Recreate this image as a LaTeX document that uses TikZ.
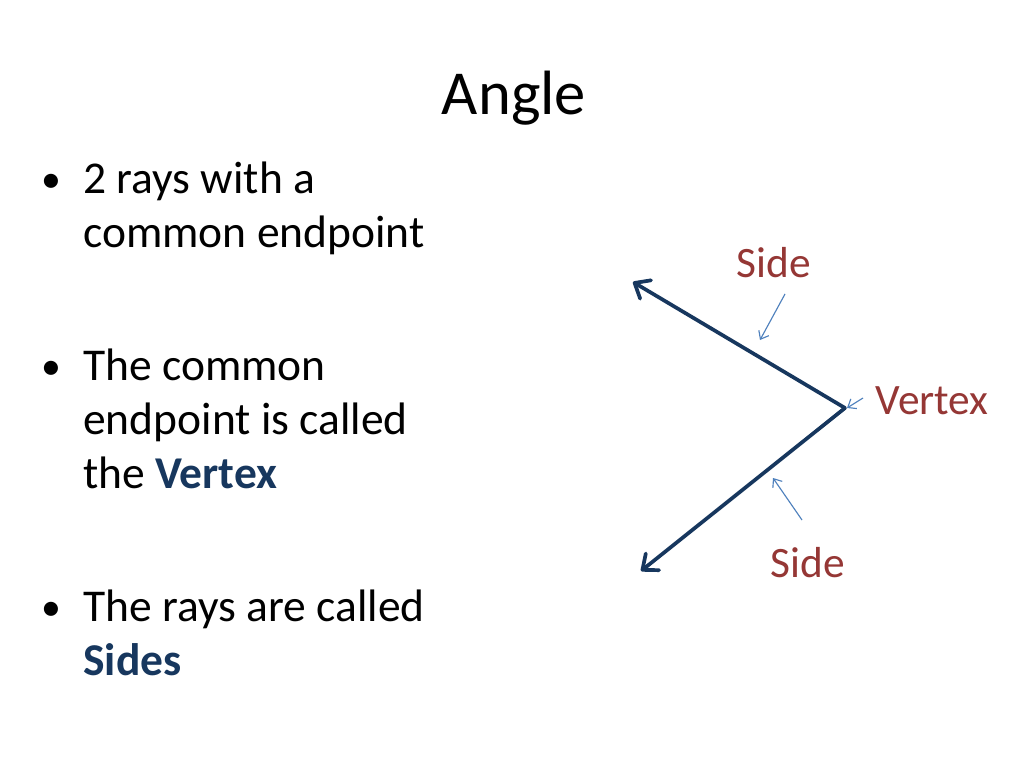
\documentclass[tikz,border=0pt]{standalone}
\usepackage{fontspec}
\setmainfont{Carlito}
\usetikzlibrary{arrows.meta, positioning}
\definecolor{rayblue}{HTML}{17375E}
\definecolor{labelred}{HTML}{953735}
\definecolor{pointblue}{HTML}{4F81BD}

\begin{document}
\begin{tikzpicture}[
    x=0.703125pt, y=-0.703125pt,
    titletext/.style={font=\fontsize{44}{53}\selectfont, anchor=base, inner sep=0pt},
    bullettext/.style={font=\fontsize{32}{38}\selectfont, anchor=base west, inner sep=0pt},
    bulletdot/.style={font=\fontsize{28}{34}\selectfont, anchor=base, inner sep=0pt},
    partlabel/.style={font=\fontsize{30.5}{36}\selectfont, text=labelred, anchor=base, inner sep=0pt},
    ray/.style={draw=rayblue, line width=2.6pt, line cap=round,
      -{Straight Barb[length=9pt, width=15pt, line width=2.6pt, line cap=round, line join=round]}},
    pointer/.style={draw=pointblue, line width=0.8pt,
      -{Straight Barb[length=5pt, width=8pt, line width=0.8pt]}}
  ]
  \useasboundingbox[fill=white] (0,0) rectangle (1024,768);

  \node[titletext] (title) at (514,115) {Angle};

  % bullet list
  \node[bulletdot] (dot1) at (51,193) {•};
  \node[bullettext] (l1) at (83,194) {2 rays with a};
  \node[bullettext] (l2) at (83,248) {common endpoint};
  \node[bulletdot] (dot2) at (51,379) {•};
  \node[bullettext] (l3) at (83,380) {The common};
  \node[bullettext] (l4) at (83,434) {endpoint is called};
  \node[bullettext] (l5) at (83,488) {the \textbf{\textcolor{rayblue}{Vertex}}};
  \node[bulletdot] (dot3) at (51,620) {•};
  \node[bullettext] (l6) at (83,621) {The rays are called};
  \node[bullettext] (l7) at (83,675) {\textbf{\textcolor{rayblue}{Sides}}};

  % the angle
  \coordinate (vtx) at (845,408);
  \coordinate (tipup) at (633,282);
  \coordinate (tipdown) at (641,571);
  \draw[ray] (vtx) -- (tipup);
  \draw[ray] (vtx) -- (tipdown);

  % labels and pointers
  \node[partlabel] (sideup) at (774,278) {Side};
  \node[partlabel] (vertexlbl) at (932,414) {Vertex};
  \node[partlabel] (sidedown) at (808,577) {Side};

  \coordinate (upfrom) at (785,294);
  \coordinate (upto) at (760,340);
  \coordinate (vfrom) at (863,398);
  \coordinate (vto) at (847,408);
  \coordinate (downfrom) at (802,520);
  \coordinate (downto) at (773,478);
  \draw[pointer] (upfrom) -- (upto);
  \draw[pointer] (vfrom) -- (vto);
  \draw[pointer] (downfrom) -- (downto);
\end{tikzpicture}
\end{document}
